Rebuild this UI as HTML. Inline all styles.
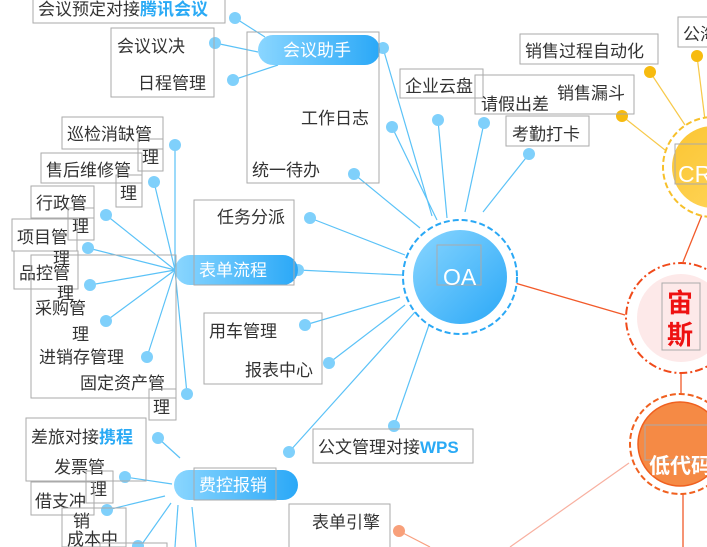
<!DOCTYPE html>
<html><head><meta charset="utf-8"><style>
html,body{margin:0;padding:0;background:#fff;width:707px;height:547px;overflow:hidden}
svg{display:block}
text{font-family:"Liberation Sans","Noto Sans CJK SC",sans-serif;font-size:17px;fill:#333}
.b{fill:none;stroke:#aaa;stroke-width:1}
.d{fill:#7fd0fb}
.y{fill:#f7bb0f}
.l{stroke:#5bc2f7;stroke-width:1.2;fill:none}
.bl{fill:#2aaaf5;font-weight:bold}
</style></head><body>
<svg width="707" height="547" viewBox="0 0 707 547" xmlns="http://www.w3.org/2000/svg">
<defs>
<linearGradient id="gb" x1="0" y1="0" x2="1" y2="1"><stop offset="0" stop-color="#8ad6ff"/><stop offset="1" stop-color="#2aa8f7"/></linearGradient>
<linearGradient id="gp" x1="0" y1="0" x2="1" y2="0"><stop offset="0" stop-color="#8ad6ff"/><stop offset="1" stop-color="#2aa8f7"/></linearGradient>
<linearGradient id="gy" x1="0" y1="0" x2="1" y2="1"><stop offset="0" stop-color="#fbc531"/><stop offset="1" stop-color="#ffd760"/></linearGradient>
</defs>
<!-- lines -->
<g class="l">
<line x1="383" y1="48" x2="432" y2="216"/>
<line x1="392" y1="127" x2="437" y2="220"/>
<line x1="354" y1="174" x2="420" y2="228"/>
<line x1="310" y1="218" x2="405" y2="255"/>
<line x1="298" y1="270" x2="402" y2="275"/>
<line x1="305" y1="325" x2="400" y2="297"/>
<line x1="329" y1="363" x2="405" y2="305"/>
<line x1="289" y1="452" x2="415" y2="312"/>
<line x1="394" y1="426" x2="430" y2="322"/>
<line x1="438" y1="120" x2="447" y2="218"/>
<line x1="484" y1="123" x2="465" y2="212"/>
<line x1="529" y1="154" x2="483" y2="212"/>
<line x1="235" y1="18" x2="265" y2="37"/>
<line x1="215" y1="43" x2="258" y2="52"/>
<line x1="233" y1="80" x2="278" y2="65"/>
<line x1="175" y1="145" x2="175" y2="270"/>
<line x1="154" y1="182" x2="175" y2="270"/>
<line x1="106" y1="215" x2="175" y2="270"/>
<line x1="88" y1="248" x2="175" y2="270"/>
<line x1="90" y1="285" x2="175" y2="270"/>
<line x1="106" y1="321" x2="175" y2="270"/>
<line x1="147" y1="357" x2="175" y2="270"/>
<line x1="187" y1="394" x2="175" y2="270"/>
<line x1="158" y1="438" x2="180" y2="458"/>
<line x1="125" y1="477" x2="172" y2="484"/>
<line x1="107" y1="510" x2="165" y2="496"/>
<line x1="140" y1="547" x2="171" y2="503"/>
<line x1="175" y1="547" x2="178" y2="505"/>
<line x1="196" y1="547" x2="192" y2="507"/>
</g>
<g stroke="#f25a2a" stroke-width="1.3" fill="none">
<line x1="515" y1="283" x2="625" y2="315"/>
<line x1="706" y1="205" x2="683" y2="262"/>
<line x1="681" y1="372" x2="681" y2="394"/>
<line x1="683" y1="493" x2="683" y2="547"/>
</g>
<line x1="629" y1="463" x2="510" y2="547" stroke="#f8b0a0" stroke-width="1.2"/>
<line x1="399" y1="531" x2="430" y2="547" stroke="#f8a080" stroke-width="1.2"/>
<g stroke="#f7c94a" stroke-width="1.2"><line x1="650" y1="72" x2="685" y2="125"/><line x1="697" y1="56" x2="705" y2="120"/><line x1="622" y1="116" x2="665" y2="150"/></g>
<!-- dots -->
<g class="d">
<circle cx="383" cy="48" r="6"/><circle cx="392" cy="127" r="6"/><circle cx="354" cy="174" r="6"/>
<circle cx="310" cy="218" r="6"/><circle cx="298" cy="270" r="6"/><circle cx="305" cy="325" r="6"/>
<circle cx="329" cy="363" r="6"/><circle cx="289" cy="452" r="6"/><circle cx="394" cy="426" r="6"/>
<circle cx="438" cy="120" r="6"/><circle cx="484" cy="123" r="6"/><circle cx="529" cy="154" r="6"/>
<circle cx="235" cy="18" r="6"/><circle cx="215" cy="43" r="6"/><circle cx="233" cy="80" r="6"/>
<circle cx="175" cy="145" r="6"/><circle cx="154" cy="182" r="6"/><circle cx="106" cy="215" r="6"/>
<circle cx="88" cy="248" r="6"/><circle cx="90" cy="285" r="6"/><circle cx="106" cy="321" r="6"/>
<circle cx="147" cy="357" r="6"/><circle cx="187" cy="394" r="6"/>
<circle cx="158" cy="438" r="6"/><circle cx="125" cy="477" r="6"/><circle cx="107" cy="510" r="6"/><circle cx="138" cy="546" r="6"/>
</g>
<circle cx="399" cy="531" r="6" fill="#f8a07a"/>
<circle class="y" cx="650" cy="72" r="6"/><circle class="y" cx="697" cy="56" r="6"/><circle class="y" cx="622" cy="116" r="6"/>
<!-- OA -->
<circle cx="460" cy="277" r="57" fill="#fff" stroke="#2aa8f5" stroke-width="2" stroke-dasharray="6 3"/>
<circle cx="460" cy="277" r="47" fill="url(#gb)"/>
<rect class="b" x="437" y="245" width="44" height="40"/>
<text x="443" y="285" style="font-size:23px;fill:#fff">OA</text>
<!-- CRM -->
<circle cx="713" cy="167" r="50" fill="#fff" stroke="#f7c02a" stroke-width="2" stroke-dasharray="6 3"/>
<circle cx="713" cy="167" r="41" fill="url(#gy)"/>
<rect class="b" x="675" y="144" width="40" height="40"/>
<text x="678" y="182" style="font-size:23px;fill:#fff">CR</text>
<!-- 宙斯 -->
<circle cx="681" cy="318" r="55" fill="#fff" stroke="#f04a1a" stroke-width="2" stroke-dasharray="8 3 2 3"/>
<circle cx="681" cy="318" r="44" fill="#fde9e9"/>
<rect class="b" x="662" y="283" width="38" height="67"/>
<text x="667" y="312" style="font-size:26px;font-weight:bold;fill:#ee1111">宙</text>
<text x="667" y="344" style="font-size:26px;font-weight:bold;fill:#ee1111">斯</text>
<!-- 低代码 -->
<circle cx="680" cy="444" r="50" fill="#fff" stroke="#f0601f" stroke-width="2" stroke-dasharray="6 3"/>
<circle cx="680" cy="444" r="42" fill="#f58a45" stroke="#f0601f" stroke-width="1.5"/>
<rect class="b" x="645" y="425" width="70" height="35"/>
<text x="649" y="473" style="font-size:21px;font-weight:bold;fill:#fff">低代码</text>
<!-- pills -->
<rect x="258" y="35" width="122" height="30" rx="15" fill="url(#gp)"/>
<text x="283" y="56" style="fill:#fff">会议助手</text>
<rect x="175" y="255" width="123" height="30" rx="15" fill="url(#gp)"/>
<text x="199" y="276" style="fill:#fff">表单流程</text>
<rect x="174" y="470" width="124" height="30" rx="15" fill="url(#gp)"/>
<text x="199" y="491" style="fill:#fff">费控报销</text>
<rect class="b" x="194" y="468" width="82" height="32"/>
<!-- boxes & text -->
<rect class="b" x="33" y="-2" width="192" height="25"/>
<text x="38" y="15">会议预定对接<tspan class="bl">腾讯会议</tspan></text>
<rect class="b" x="111" y="28" width="103" height="69"/>
<text x="117" y="52">会议议决</text><text x="138" y="89">日程管理</text>
<rect class="b" x="247" y="32" width="132" height="151"/>
<text x="301" y="124">工作日志</text><text x="252" y="176">统一待办</text>
<rect class="b" x="400" y="69" width="83" height="29"/>
<text x="405" y="92">企业云盘</text>
<rect class="b" x="475" y="75" width="159" height="39"/>
<text x="481" y="110">请假出差</text><text x="557" y="99">销售漏斗</text>
<rect class="b" x="506" y="116" width="83" height="30"/>
<text x="512" y="140">考勤打卡</text>
<rect class="b" x="520" y="34" width="138" height="30"/>
<text x="525" y="57">销售过程自动化</text>
<rect class="b" x="678" y="17" width="32" height="30"/>
<text x="683" y="40">公海</text>
<rect class="b" x="194" y="200" width="100" height="85"/>
<text x="217" y="223">任务分派</text>
<rect class="b" x="62" y="117" width="101" height="32"/>
<text x="67" y="140">巡检消缺管</text>
<rect class="b" x="138" y="139" width="25" height="32"/><text x="142" y="163">理</text>
<rect class="b" x="41" y="153" width="101" height="30"/>
<text x="46" y="176">售后维修管</text>
<rect class="b" x="116" y="175" width="26" height="32"/><text x="120" y="199">理</text>
<rect class="b" x="31" y="186" width="63" height="32"/>
<text x="36" y="209">行政管</text>
<rect class="b" x="68" y="208" width="26" height="32"/><text x="72" y="232">理</text>
<rect class="b" x="12" y="219" width="65" height="32"/>
<text x="17" y="243">项目管</text>
<rect class="b" x="14" y="251" width="64" height="38"/>
<text x="53" y="264">理</text><text x="19" y="279">品控管</text>
<rect class="b" x="31" y="255" width="145" height="143"/>
<text x="57" y="299">理</text>
<text x="35" y="314">采购管</text><text x="72" y="340">理</text>
<text x="39" y="363">进销存管理</text>
<text x="80" y="389">固定资产管</text>
<rect class="b" x="149" y="389" width="27" height="31"/><text x="153" y="413">理</text>
<rect class="b" x="204" y="313" width="118" height="71"/>
<text x="209" y="337">用车管理</text><text x="245" y="376">报表中心</text>
<rect class="b" x="313" y="429" width="160" height="34"/>
<text x="318" y="453">公文管理对接<tspan class="bl">WPS</tspan></text>
<rect class="b" x="26" y="418" width="120" height="63"/>
<text x="31" y="443">差旅对接<tspan class="bl">携程</tspan></text>
<text x="54" y="473">发票管</text>
<rect class="b" x="86" y="471" width="27" height="32"/><text x="90" y="495">理</text>
<rect class="b" x="31" y="482" width="63" height="33"/>
<text x="35" y="507">借支冲</text>
<rect class="b" x="62" y="508" width="64" height="39"/>
<text x="73" y="527">销</text><text x="67" y="545">成本中</text>
<rect class="b" x="100" y="543" width="67" height="10"/>
<rect class="b" x="289" y="504" width="101" height="50"/>
<text x="312" y="528">表单引擎</text>
</svg>
</body></html>
